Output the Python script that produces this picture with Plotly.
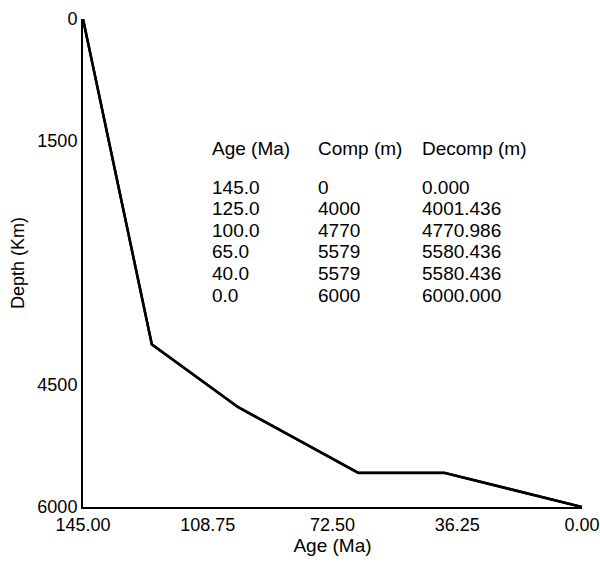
import plotly.graph_objects as go

ages = [145.0, 125.0, 100.0, 65.0, 40.0, 0.0]
comp = [0, 4000, 4770, 5579, 5579, 6000]
decomp = [0.000, 4001.436, 4770.986, 5580.436, 5580.436, 6000.000]
headers = ["Age (Ma)", "Comp (m)", "Decomp (m)"]
x_ticks = [145.0, 108.75, 72.5, 36.25, 0.0]
x_ticktext = ["145.00", "108.75", "72.50", "36.25", "0.00"]
y_ticks = [0, 1500, 4500, 6000]

W, H = 600, 562
L, R, T, B = 83, 18, 19, 55
pw, ph = W - L - R, H - T - B

def px(x):
    return (x - L) / pw

def py(y):
    return (H - B - y) / ph

FONT = "Liberation Sans, Arial, sans-serif"
TABLE_SIZE = 19

fig = go.Figure()
fig.add_trace(go.Scatter(x=ages, y=comp, mode="lines", name="Comp",
                         line=dict(color="black", width=2.5)))
fig.add_trace(go.Scatter(x=ages, y=decomp, mode="lines", name="Decomp",
                         line=dict(color="black", width=2.5)))

col_x = [210, 316, 420]
ann = []
for c, h in enumerate(headers):
    ann.append(dict(x=px(col_x[c]), y=py(148), xref="paper", yref="paper",
                    text=h, showarrow=False, xanchor="left", yanchor="middle",
                    font=dict(size=TABLE_SIZE, color="black", family=FONT)))
row_y0, row_dy = 187, 21.6
for i in range(len(ages)):
    vals = [f"{ages[i]:.1f}", f"{comp[i]}", f"{decomp[i]:.3f}"]
    for c, v in enumerate(vals):
        ann.append(dict(x=px(col_x[c]), y=py(row_y0 + i * row_dy), xref="paper", yref="paper",
                        text=v, showarrow=False, xanchor="left", yanchor="middle",
                        font=dict(size=TABLE_SIZE, color="black", family=FONT)))

fig.update_layout(
    template="none",
    width=W, height=H,
    margin=dict(l=L, r=R, t=T, b=B),
    paper_bgcolor="white", plot_bgcolor="white",
    showlegend=False,
    font=dict(family=FONT, size=18, color="black"),
    annotations=ann,
    xaxis=dict(range=[145, 0], tickvals=x_ticks, ticktext=x_ticktext,
               automargin=False,
               showgrid=False, zeroline=False, showline=True, linecolor="black",
               linewidth=2, ticks="", tickfont=dict(size=18),
               title=dict(text="Age (Ma)", font=dict(size=19), standoff=0)),
    yaxis=dict(range=[6000, 0], tickvals=y_ticks,
               automargin=False,
               showgrid=False, zeroline=False, showline=True, linecolor="black",
               linewidth=2, ticks="", tickfont=dict(size=18),
               title=dict(text="Depth (Km)", font=dict(size=18), standoff=8)),
)

fig.write_html("out.html",
               config={"displayModeBar": False},
               post_script="document.body.style.margin='0';document.body.style.overflow='hidden';")
